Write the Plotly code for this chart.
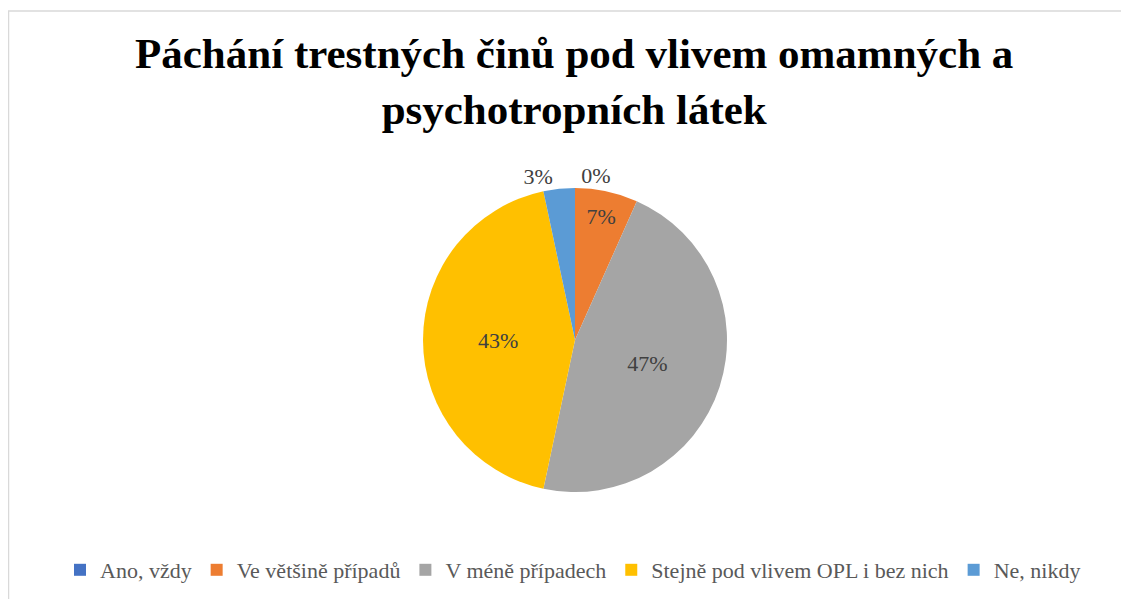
import plotly.graph_objects as go

categories = ["Ano, vždy", "Ve většině případů", "V méně případech",
              "Stejně pod vlivem OPL i bez nich", "Ne, nikdy"]
values = [0, 2, 14, 13, 1]
colors = ["#4472C4", "#ED7D31", "#A5A5A5", "#FFC000", "#5B9BD5"]
title_text = "Páchání trestných činů pod vlivem omamných a<br>psychotropních látek"

SERIF = "Liberation Serif, Times New Roman, Times, serif"

# page body has an 8px margin, so the figure is laid out 8px in from the window edge
OFF = 8
W, H = 1129 - OFF, 599 - OFF
cx, cy, r = 575 - OFF, 340 - OFF, 152

fig = go.Figure(go.Pie(
    labels=categories,
    values=values,
    sort=False,
    direction="clockwise",
    rotation=0,
    marker=dict(colors=colors, line=dict(color="white", width=0)),
    texttemplate="%{percent:.0%}",
    textposition=["outside", "inside", "inside", "inside", "outside"],
    insidetextorientation="horizontal",
    textfont=dict(family=SERIF, size=22, color="#404040"),
    insidetextfont=dict(family=SERIF, size=22, color="#404040"),
    outsidetextfont=dict(family=SERIF, size=22, color="#404040"),
    domain=dict(x=[(cx - r) / W, (cx + r) / W], y=[(H - cy - r) / H, (H - cy + r) / H]),
    hoverinfo="label+percent",
    showlegend=True,
))

fig.update_layout(
    width=W, height=H,
    margin=dict(l=0, r=0, t=0, b=0),
    paper_bgcolor="white",
    plot_bgcolor="white",
    font=dict(family=SERIF, color="#595959"),
    legend=dict(
        orientation="h",
        x=(573 - OFF) / W, xanchor="center",
        y=(599 - 570) / H, yanchor="middle",
        font=dict(family=SERIF, size=22, color="#595959"),
        itemwidth=30,
        traceorder="normal",
    ),
    annotations=[dict(
        text=title_text, showarrow=False,
        xref="paper", yref="paper",
        x=(574 - OFF) / W, xanchor="center",
        y=1 - (82 - OFF) / H, yanchor="middle",
        font=dict(family=SERIF, size=43, color="black", weight="bold"),
        align="center",
    )],
    shapes=[dict(type="rect", xref="paper", yref="paper",
                 x0=0.5 / W, x1=1.01, y0=-0.01, y1=1 - (11 - OFF) / H,
                 line=dict(color="#D9D9D9", width=1.5), fillcolor="rgba(0,0,0,0)")],
)

fig.write_html("out.html")
